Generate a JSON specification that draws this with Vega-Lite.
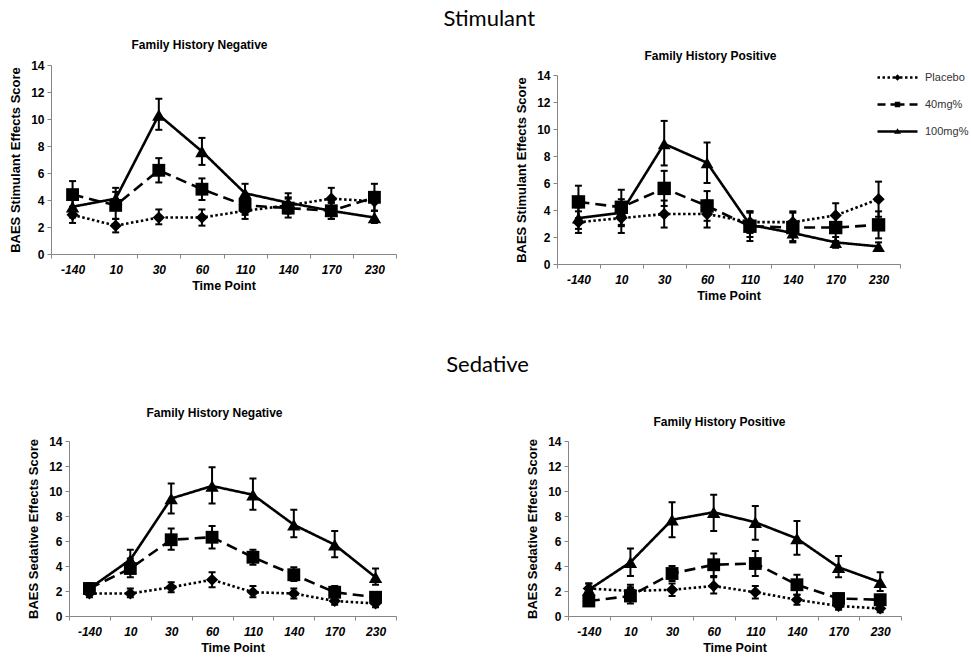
{
"$schema": "https://vega.github.io/schema/vega-lite/v6.json",
"background": "white",
"padding": {"left": 9, "top": 8, "right": 0, "bottom": 0},
"datasets": {"d": [
{"p":"SN","dose":"Placebo","time":-140,"mean":2.9,"lo":2.3,"hi":3.5},
{"p":"SN","dose":"Placebo","time":10,"mean":2.1,"lo":1.6,"hi":2.6},
{"p":"SN","dose":"Placebo","time":30,"mean":2.7,"lo":2.2,"hi":3.3},
{"p":"SN","dose":"Placebo","time":60,"mean":2.7,"lo":2.1,"hi":3.3},
{"p":"SN","dose":"Placebo","time":110,"mean":3.2,"lo":2.6,"hi":3.8},
{"p":"SN","dose":"Placebo","time":140,"mean":3.6,"lo":3.0,"hi":4.2},
{"p":"SN","dose":"Placebo","time":170,"mean":4.1,"lo":3.3,"hi":4.9},
{"p":"SN","dose":"Placebo","time":230,"mean":3.9,"lo":3.2,"hi":4.6},
{"p":"SN","dose":"40mg%","time":-140,"mean":4.4,"lo":3.4,"hi":5.4},
{"p":"SN","dose":"40mg%","time":10,"mean":3.6,"lo":2.6,"hi":4.6},
{"p":"SN","dose":"40mg%","time":30,"mean":6.2,"lo":5.3,"hi":7.1},
{"p":"SN","dose":"40mg%","time":60,"mean":4.8,"lo":4.0,"hi":5.6},
{"p":"SN","dose":"40mg%","time":110,"mean":3.6,"lo":2.9,"hi":4.3},
{"p":"SN","dose":"40mg%","time":140,"mean":3.4,"lo":2.7,"hi":4.1},
{"p":"SN","dose":"40mg%","time":170,"mean":3.2,"lo":2.6,"hi":3.8},
{"p":"SN","dose":"40mg%","time":230,"mean":4.2,"lo":3.2,"hi":5.2},
{"p":"SN","dose":"100mg%","time":-140,"mean":3.5,"lo":2.7,"hi":4.3},
{"p":"SN","dose":"100mg%","time":10,"mean":4.1,"lo":3.3,"hi":4.9},
{"p":"SN","dose":"100mg%","time":30,"mean":10.3,"lo":9.2,"hi":11.5},
{"p":"SN","dose":"100mg%","time":60,"mean":7.6,"lo":6.6,"hi":8.6},
{"p":"SN","dose":"100mg%","time":110,"mean":4.5,"lo":3.7,"hi":5.2},
{"p":"SN","dose":"100mg%","time":140,"mean":3.8,"lo":3.1,"hi":4.5},
{"p":"SN","dose":"100mg%","time":170,"mean":3.2,"lo":2.6,"hi":3.8},
{"p":"SN","dose":"100mg%","time":230,"mean":2.7,"lo":2.3,"hi":3.2},
{"p":"SP","dose":"Placebo","time":-140,"mean":3.1,"lo":2.3,"hi":3.9},
{"p":"SP","dose":"Placebo","time":10,"mean":3.4,"lo":2.3,"hi":4.5},
{"p":"SP","dose":"Placebo","time":30,"mean":3.7,"lo":2.7,"hi":4.7},
{"p":"SP","dose":"Placebo","time":60,"mean":3.7,"lo":2.7,"hi":4.7},
{"p":"SP","dose":"Placebo","time":110,"mean":3.1,"lo":2.3,"hi":3.9},
{"p":"SP","dose":"Placebo","time":140,"mean":3.1,"lo":2.3,"hi":3.9},
{"p":"SP","dose":"Placebo","time":170,"mean":3.6,"lo":2.7,"hi":4.5},
{"p":"SP","dose":"Placebo","time":230,"mean":4.8,"lo":3.5,"hi":6.1},
{"p":"SP","dose":"40mg%","time":-140,"mean":4.6,"lo":3.4,"hi":5.8},
{"p":"SP","dose":"40mg%","time":10,"mean":4.2,"lo":2.9,"hi":5.5},
{"p":"SP","dose":"40mg%","time":30,"mean":5.6,"lo":4.3,"hi":6.9},
{"p":"SP","dose":"40mg%","time":60,"mean":4.3,"lo":3.2,"hi":5.4},
{"p":"SP","dose":"40mg%","time":110,"mean":2.8,"lo":1.7,"hi":3.9},
{"p":"SP","dose":"40mg%","time":140,"mean":2.7,"lo":1.6,"hi":3.8},
{"p":"SP","dose":"40mg%","time":170,"mean":2.7,"lo":1.7,"hi":3.7},
{"p":"SP","dose":"40mg%","time":230,"mean":2.9,"lo":1.9,"hi":3.9},
{"p":"SP","dose":"100mg%","time":-140,"mean":3.4,"lo":2.6,"hi":4.2},
{"p":"SP","dose":"100mg%","time":10,"mean":3.8,"lo":2.8,"hi":4.8},
{"p":"SP","dose":"100mg%","time":30,"mean":8.9,"lo":7.3,"hi":10.6},
{"p":"SP","dose":"100mg%","time":60,"mean":7.5,"lo":6.0,"hi":9.0},
{"p":"SP","dose":"100mg%","time":110,"mean":2.9,"lo":2.0,"hi":3.8},
{"p":"SP","dose":"100mg%","time":140,"mean":2.3,"lo":1.7,"hi":2.9},
{"p":"SP","dose":"100mg%","time":170,"mean":1.6,"lo":1.2,"hi":2.0},
{"p":"SP","dose":"100mg%","time":230,"mean":1.3,"lo":1.0,"hi":1.6},
{"p":"DN","dose":"Placebo","time":-140,"mean":1.8,"lo":1.5,"hi":2.1},
{"p":"DN","dose":"Placebo","time":10,"mean":1.8,"lo":1.5,"hi":2.2},
{"p":"DN","dose":"Placebo","time":30,"mean":2.3,"lo":1.9,"hi":2.7},
{"p":"DN","dose":"Placebo","time":60,"mean":2.9,"lo":2.3,"hi":3.5},
{"p":"DN","dose":"Placebo","time":110,"mean":1.9,"lo":1.5,"hi":2.4},
{"p":"DN","dose":"Placebo","time":140,"mean":1.8,"lo":1.4,"hi":2.2},
{"p":"DN","dose":"Placebo","time":170,"mean":1.2,"lo":0.9,"hi":1.6},
{"p":"DN","dose":"Placebo","time":230,"mean":1.0,"lo":0.7,"hi":1.3},
{"p":"DN","dose":"40mg%","time":-140,"mean":2.2,"lo":1.8,"hi":2.6},
{"p":"DN","dose":"40mg%","time":10,"mean":3.8,"lo":3.1,"hi":4.6},
{"p":"DN","dose":"40mg%","time":30,"mean":6.1,"lo":5.3,"hi":7.0},
{"p":"DN","dose":"40mg%","time":60,"mean":6.3,"lo":5.4,"hi":7.2},
{"p":"DN","dose":"40mg%","time":110,"mean":4.7,"lo":4.1,"hi":5.3},
{"p":"DN","dose":"40mg%","time":140,"mean":3.3,"lo":2.8,"hi":3.9},
{"p":"DN","dose":"40mg%","time":170,"mean":1.9,"lo":1.4,"hi":2.4},
{"p":"DN","dose":"40mg%","time":230,"mean":1.5,"lo":1.1,"hi":1.9},
{"p":"DN","dose":"100mg%","time":-140,"mean":2.2,"lo":1.8,"hi":2.6},
{"p":"DN","dose":"100mg%","time":10,"mean":4.5,"lo":3.7,"hi":5.3},
{"p":"DN","dose":"100mg%","time":30,"mean":9.4,"lo":8.2,"hi":10.6},
{"p":"DN","dose":"100mg%","time":60,"mean":10.4,"lo":9.0,"hi":11.9},
{"p":"DN","dose":"100mg%","time":110,"mean":9.7,"lo":8.5,"hi":11.0},
{"p":"DN","dose":"100mg%","time":140,"mean":7.3,"lo":6.3,"hi":8.5},
{"p":"DN","dose":"100mg%","time":170,"mean":5.7,"lo":4.7,"hi":6.8},
{"p":"DN","dose":"100mg%","time":230,"mean":3.1,"lo":2.5,"hi":3.8},
{"p":"DP","dose":"Placebo","time":-140,"mean":2.2,"lo":1.8,"hi":2.6},
{"p":"DP","dose":"Placebo","time":10,"mean":2.0,"lo":1.5,"hi":2.5},
{"p":"DP","dose":"Placebo","time":30,"mean":2.1,"lo":1.6,"hi":2.6},
{"p":"DP","dose":"Placebo","time":60,"mean":2.4,"lo":1.8,"hi":3.1},
{"p":"DP","dose":"Placebo","time":110,"mean":1.9,"lo":1.4,"hi":2.4},
{"p":"DP","dose":"Placebo","time":140,"mean":1.3,"lo":0.9,"hi":1.7},
{"p":"DP","dose":"Placebo","time":170,"mean":0.8,"lo":0.5,"hi":1.1},
{"p":"DP","dose":"Placebo","time":230,"mean":0.6,"lo":0.3,"hi":0.9},
{"p":"DP","dose":"40mg%","time":-140,"mean":1.2,"lo":0.8,"hi":1.6},
{"p":"DP","dose":"40mg%","time":10,"mean":1.6,"lo":1.0,"hi":2.3},
{"p":"DP","dose":"40mg%","time":30,"mean":3.4,"lo":2.8,"hi":4.0},
{"p":"DP","dose":"40mg%","time":60,"mean":4.1,"lo":3.2,"hi":5.0},
{"p":"DP","dose":"40mg%","time":110,"mean":4.2,"lo":3.2,"hi":5.2},
{"p":"DP","dose":"40mg%","time":140,"mean":2.5,"lo":1.7,"hi":3.3},
{"p":"DP","dose":"40mg%","time":170,"mean":1.4,"lo":1.0,"hi":1.8},
{"p":"DP","dose":"40mg%","time":230,"mean":1.3,"lo":0.9,"hi":1.7},
{"p":"DP","dose":"100mg%","time":-140,"mean":2.1,"lo":1.6,"hi":2.6},
{"p":"DP","dose":"100mg%","time":10,"mean":4.3,"lo":3.2,"hi":5.4},
{"p":"DP","dose":"100mg%","time":30,"mean":7.7,"lo":6.3,"hi":9.1},
{"p":"DP","dose":"100mg%","time":60,"mean":8.3,"lo":6.8,"hi":9.7},
{"p":"DP","dose":"100mg%","time":110,"mean":7.5,"lo":6.1,"hi":8.8},
{"p":"DP","dose":"100mg%","time":140,"mean":6.2,"lo":4.9,"hi":7.6},
{"p":"DP","dose":"100mg%","time":170,"mean":3.9,"lo":3.1,"hi":4.8},
{"p":"DP","dose":"100mg%","time":230,"mean":2.7,"lo":2.0,"hi":3.5}
]},
"config": {
  "view": {"stroke": null},
  "font": "Liberation Sans",
  "title": {"font": "Liberation Sans", "fontSize": 12, "fontWeight": "bold", "color": "black", "anchor": "middle"},
  "axis": {"grid": false, "domainColor": "#868686", "tickColor": "#868686", "domainWidth": 1, "tickWidth": 1, "labelColor": "black", "titleColor": "black", "labelFont": "Liberation Sans", "titleFont": "Liberation Sans", "labelFontWeight": "bold", "titleFontWeight": "bold", "labelFontSize": 12, "titleFontSize": 13},
  "axisX": {"labelAngle": 0, "tickBand": "extent", "tickSize": 4, "labelPadding": 6, "titlePadding": 4, "labelFontStyle": "italic", "titleFontSize": 12.5},
  "axisY": {"tickCount": 7, "tickSize": 4, "labelPadding": 3, "titlePadding": 8}
},
"resolve": {"scale": {"strokeDash": "independent", "shape": "independent", "size": "independent"}},
"spacing": 52,
"vconcat": [
{
  "title": {"text": "Stimulant", "font": "Lato", "fontSize": 22, "fontWeight": "normal", "color": "black", "anchor": "middle", "offset": 8},
  "spacing": 118,
  "resolve": {"scale": {"strokeDash": "independent", "shape": "independent", "size": "independent"}},
  "hconcat": [
  {
    "width": 345, "height": 189,
    "data": {"name": "d"},
    "transform": [{"filter": "datum.p === 'SN'"}],
    "title": {"text": "Family History Negative", "frame": "group", "dx": -24, "offset": 7},
    "encoding": {"x": {"field": "time", "type": "ordinal", "title": "Time Point", "scale": {"type": "band", "paddingInner": 0, "paddingOuter": 0}}},
    "layer": [
      {"mark": {"type": "rule", "color": "black", "strokeWidth": 2}, "encoding": {"y": {"field": "lo", "type": "quantitative", "title": "BAES Stimulant Effects Score", "scale": {"domain": [0, 14]}}, "y2": {"field": "hi"}}},
      {"mark": {"type": "tick", "color": "black", "thickness": 2, "size": 7, "opacity": 1}, "encoding": {"y": {"field": "lo", "type": "quantitative", "title": "BAES Stimulant Effects Score"}}},
      {"mark": {"type": "tick", "color": "black", "thickness": 2, "size": 7, "opacity": 1}, "encoding": {"y": {"field": "hi", "type": "quantitative", "title": "BAES Stimulant Effects Score"}}},
      {"mark": {"type": "line", "color": "black", "strokeWidth": 2.6}, "encoding": {"y": {"field": "mean", "type": "quantitative", "title": "BAES Stimulant Effects Score"}, "strokeDash": {"field": "dose", "type": "nominal", "scale": {"domain": ["Placebo", "40mg%", "100mg%"], "range": [[2.5, 2.5], [11, 6], [1, 0]]}, "legend": null}}},
      {"mark": {"type": "point", "filled": true, "color": "black", "opacity": 1}, "encoding": {"y": {"field": "mean", "type": "quantitative", "title": "BAES Stimulant Effects Score"}, "shape": {"field": "dose", "type": "nominal", "scale": {"domain": ["Placebo", "40mg%", "100mg%"], "range": ["diamond", "square", "triangle-up"]}, "legend": null}, "size": {"field": "dose", "type": "nominal", "scale": {"domain": ["Placebo", "40mg%", "100mg%"], "range": [150, 180, 160]}, "legend": null}}}
    ]
  },
  {
    "width": 343, "height": 199,
    "data": {"name": "d"},
    "transform": [{"filter": "datum.p === 'SP'"}],
    "title": {"text": "Family History Positive", "frame": "group", "dx": -18, "offset": 2},
    "encoding": {"x": {"field": "time", "type": "ordinal", "title": "Time Point", "scale": {"type": "band", "paddingInner": 0, "paddingOuter": 0}}},
    "layer": [
      {"mark": {"type": "rule", "color": "black", "strokeWidth": 2}, "encoding": {"y": {"field": "lo", "type": "quantitative", "title": "BAES Stimulant Effects Score", "scale": {"domain": [0, 14], "range": [199, 10]}}, "y2": {"field": "hi"}}},
      {"mark": {"type": "tick", "color": "black", "thickness": 2, "size": 7, "opacity": 1}, "encoding": {"y": {"field": "lo", "type": "quantitative", "title": "BAES Stimulant Effects Score"}}},
      {"mark": {"type": "tick", "color": "black", "thickness": 2, "size": 7, "opacity": 1}, "encoding": {"y": {"field": "hi", "type": "quantitative", "title": "BAES Stimulant Effects Score"}}},
      {"mark": {"type": "line", "color": "black", "strokeWidth": 2.6}, "encoding": {"y": {"field": "mean", "type": "quantitative", "title": "BAES Stimulant Effects Score"}, "strokeDash": {"field": "dose", "type": "nominal", "scale": {"domain": ["Placebo", "40mg%", "100mg%"], "range": [[2.5, 2.5], [11, 6], [1, 0]]}, "legend": {"orient": "none", "legendX": 334, "legendY": 6, "title": null, "symbolSize": 100, "symbolStrokeWidth": 2.5, "symbolStrokeColor": "black", "symbolFillColor": "black", "symbolOpacity": 1, "labelOffset": 21, "rowPadding": 10, "labelFont": "Liberation Sans", "labelFontSize": 11, "labelFontWeight": "normal", "labelColor": "#333333"}}}},
      {"transform": [{"filter": "datum.dose === 'Placebo'"}], "mark": {"type": "point", "shape": "diamond", "size": 150, "filled": true, "color": "black", "opacity": 1}, "encoding": {"y": {"field": "mean", "type": "quantitative", "title": "BAES Stimulant Effects Score"}}},
      {"transform": [{"filter": "datum.dose === '40mg%'"}], "mark": {"type": "point", "shape": "square", "size": 180, "filled": true, "color": "black", "opacity": 1}, "encoding": {"y": {"field": "mean", "type": "quantitative", "title": "BAES Stimulant Effects Score"}}},
      {"transform": [{"filter": "datum.dose === '100mg%'"}], "mark": {"type": "point", "shape": "triangle-up", "size": 160, "filled": true, "color": "black", "opacity": 1}, "encoding": {"y": {"field": "mean", "type": "quantitative", "title": "BAES Stimulant Effects Score"}}},
      {"mark": {"type": "point", "filled": false, "fill": "black", "stroke": "black", "strokeWidth": 2.5, "opacity": 0}, "encoding": {"y": {"field": "mean", "type": "quantitative", "title": "BAES Stimulant Effects Score"}, "shape": {"field": "dose", "type": "nominal", "scale": {"domain": ["Placebo", "40mg%", "100mg%"], "range": ["M-4,-0.25L-3.5,-0.25L-3.5,0.25L-4,0.25ZM-3,-0.25L-2.5,-0.25L-2.5,0.25L-3,0.25ZM-2,-0.25L-1.5,-0.25L-1.5,0.25L-2,0.25ZM-1,-0.25L-0.5,-0.25L-0.5,0.25L-1,0.25ZM0.5,-0.25L1,-0.25L1,0.25L0.5,0.25ZM1.5,-0.25L2,-0.25L2,0.25L1.5,0.25ZM2.5,-0.25L3,-0.25L3,0.25L2.5,0.25ZM3.5,-0.25L4,-0.25L4,0.25L3.5,0.25ZM0,-0.65L0.65,0L0,0.65L-0.65,0Z", "M-4,-0.25L-2.4,-0.25L-2.4,0.25L-4,0.25ZM-1.4,-0.25L1.4,-0.25L1.4,0.25L-1.4,0.25ZM2.4,-0.25L4,-0.25L4,0.25L2.4,0.25ZM-0.55,-0.55L0.55,-0.55L0.55,0.55L-0.55,0.55Z", "M-4,-0.25L4,-0.25L4,0.25L-4,0.25ZM0,-0.65L0.7,0.45L-0.7,0.45Z"]}, "legend": {"orient": "none", "legendX": 334, "legendY": 6, "title": null, "symbolSize": 100, "symbolStrokeWidth": 2.5, "symbolStrokeColor": "black", "symbolFillColor": "black", "symbolOpacity": 1, "labelOffset": 21, "rowPadding": 10, "labelFont": "Liberation Sans", "labelFontSize": 11, "labelFontWeight": "normal", "labelColor": "#333333"}}}}
    ]
  }
  ]
},
{
  "title": {"text": "Sedative", "font": "Lato", "fontSize": 22, "fontWeight": "normal", "color": "black", "anchor": "middle", "offset": 30, "dx": 23},
  "spacing": 129,
  "resolve": {"scale": {"strokeDash": "independent", "shape": "independent", "size": "independent"}},
  "hconcat": [
    {
      "width": 345, "height": 175,
      "data": {"name": "d"},
      "transform": [{"filter": "datum.p === 'DN'"}],
      "title": {"text": "Family History Negative", "frame": "group", "dx": -9, "offset": 15},
      "encoding": {"x": {"field": "time", "type": "ordinal", "title": "Time Point", "scale": {"type": "band", "paddingInner": 0, "paddingOuter": 0, "range": [18, 345]}}},
      "layer": [
        {"mark": {"type": "rule", "color": "black", "strokeWidth": 2}, "encoding": {"y": {"field": "lo", "type": "quantitative", "title": "BAES Sedative Effects Score", "scale": {"domain": [0, 14]}, "axis": {"offset": -18}}, "y2": {"field": "hi"}}},
        {"mark": {"type": "tick", "color": "black", "thickness": 2, "size": 7, "opacity": 1}, "encoding": {"y": {"field": "lo", "type": "quantitative", "title": "BAES Sedative Effects Score", "axis": {"offset": -18}}}},
        {"mark": {"type": "tick", "color": "black", "thickness": 2, "size": 7, "opacity": 1}, "encoding": {"y": {"field": "hi", "type": "quantitative", "title": "BAES Sedative Effects Score", "axis": {"offset": -18}}}},
        {"mark": {"type": "line", "color": "black", "strokeWidth": 2.6}, "encoding": {"y": {"field": "mean", "type": "quantitative", "title": "BAES Sedative Effects Score", "axis": {"offset": -18}}, "strokeDash": {"field": "dose", "type": "nominal", "scale": {"domain": ["Placebo", "40mg%", "100mg%"], "range": [[2.5, 2.5], [11, 6], [1, 0]]}, "legend": null}}},
        {"mark": {"type": "point", "filled": true, "color": "black", "opacity": 1}, "encoding": {"y": {"field": "mean", "type": "quantitative", "title": "BAES Sedative Effects Score", "axis": {"offset": -18}}, "shape": {"field": "dose", "type": "nominal", "scale": {"domain": ["Placebo", "40mg%", "100mg%"], "range": ["diamond", "square", "triangle-up"]}, "legend": null}, "size": {"field": "dose", "type": "nominal", "scale": {"domain": ["Placebo", "40mg%", "100mg%"], "range": [150, 180, 160]}, "legend": null}}}
      ]
    },
    {
      "width": 333, "height": 175,
      "data": {"name": "d"},
      "transform": [{"filter": "datum.p === 'DP'"}],
      "title": {"text": "Family History Positive", "frame": "group", "dx": -15, "offset": 6},
      "encoding": {"x": {"field": "time", "type": "ordinal", "title": "Time Point", "scale": {"type": "band", "paddingInner": 0, "paddingOuter": 0}}},
      "layer": [
        {"mark": {"type": "rule", "color": "black", "strokeWidth": 2}, "encoding": {"y": {"field": "lo", "type": "quantitative", "title": "BAES Sedative Effects Score", "scale": {"domain": [0, 14]}}, "y2": {"field": "hi"}}},
        {"mark": {"type": "tick", "color": "black", "thickness": 2, "size": 7, "opacity": 1}, "encoding": {"y": {"field": "lo", "type": "quantitative", "title": "BAES Sedative Effects Score"}}},
        {"mark": {"type": "tick", "color": "black", "thickness": 2, "size": 7, "opacity": 1}, "encoding": {"y": {"field": "hi", "type": "quantitative", "title": "BAES Sedative Effects Score"}}},
        {"mark": {"type": "line", "color": "black", "strokeWidth": 2.6}, "encoding": {"y": {"field": "mean", "type": "quantitative", "title": "BAES Sedative Effects Score"}, "strokeDash": {"field": "dose", "type": "nominal", "scale": {"domain": ["Placebo", "40mg%", "100mg%"], "range": [[2.5, 2.5], [11, 6], [1, 0]]}, "legend": null}}},
        {"mark": {"type": "point", "filled": true, "color": "black", "opacity": 1}, "encoding": {"y": {"field": "mean", "type": "quantitative", "title": "BAES Sedative Effects Score"}, "shape": {"field": "dose", "type": "nominal", "scale": {"domain": ["Placebo", "40mg%", "100mg%"], "range": ["diamond", "square", "triangle-up"]}, "legend": null}, "size": {"field": "dose", "type": "nominal", "scale": {"domain": ["Placebo", "40mg%", "100mg%"], "range": [150, 180, 160]}, "legend": null}}}
      ]
    }
  ]
}
]
}
